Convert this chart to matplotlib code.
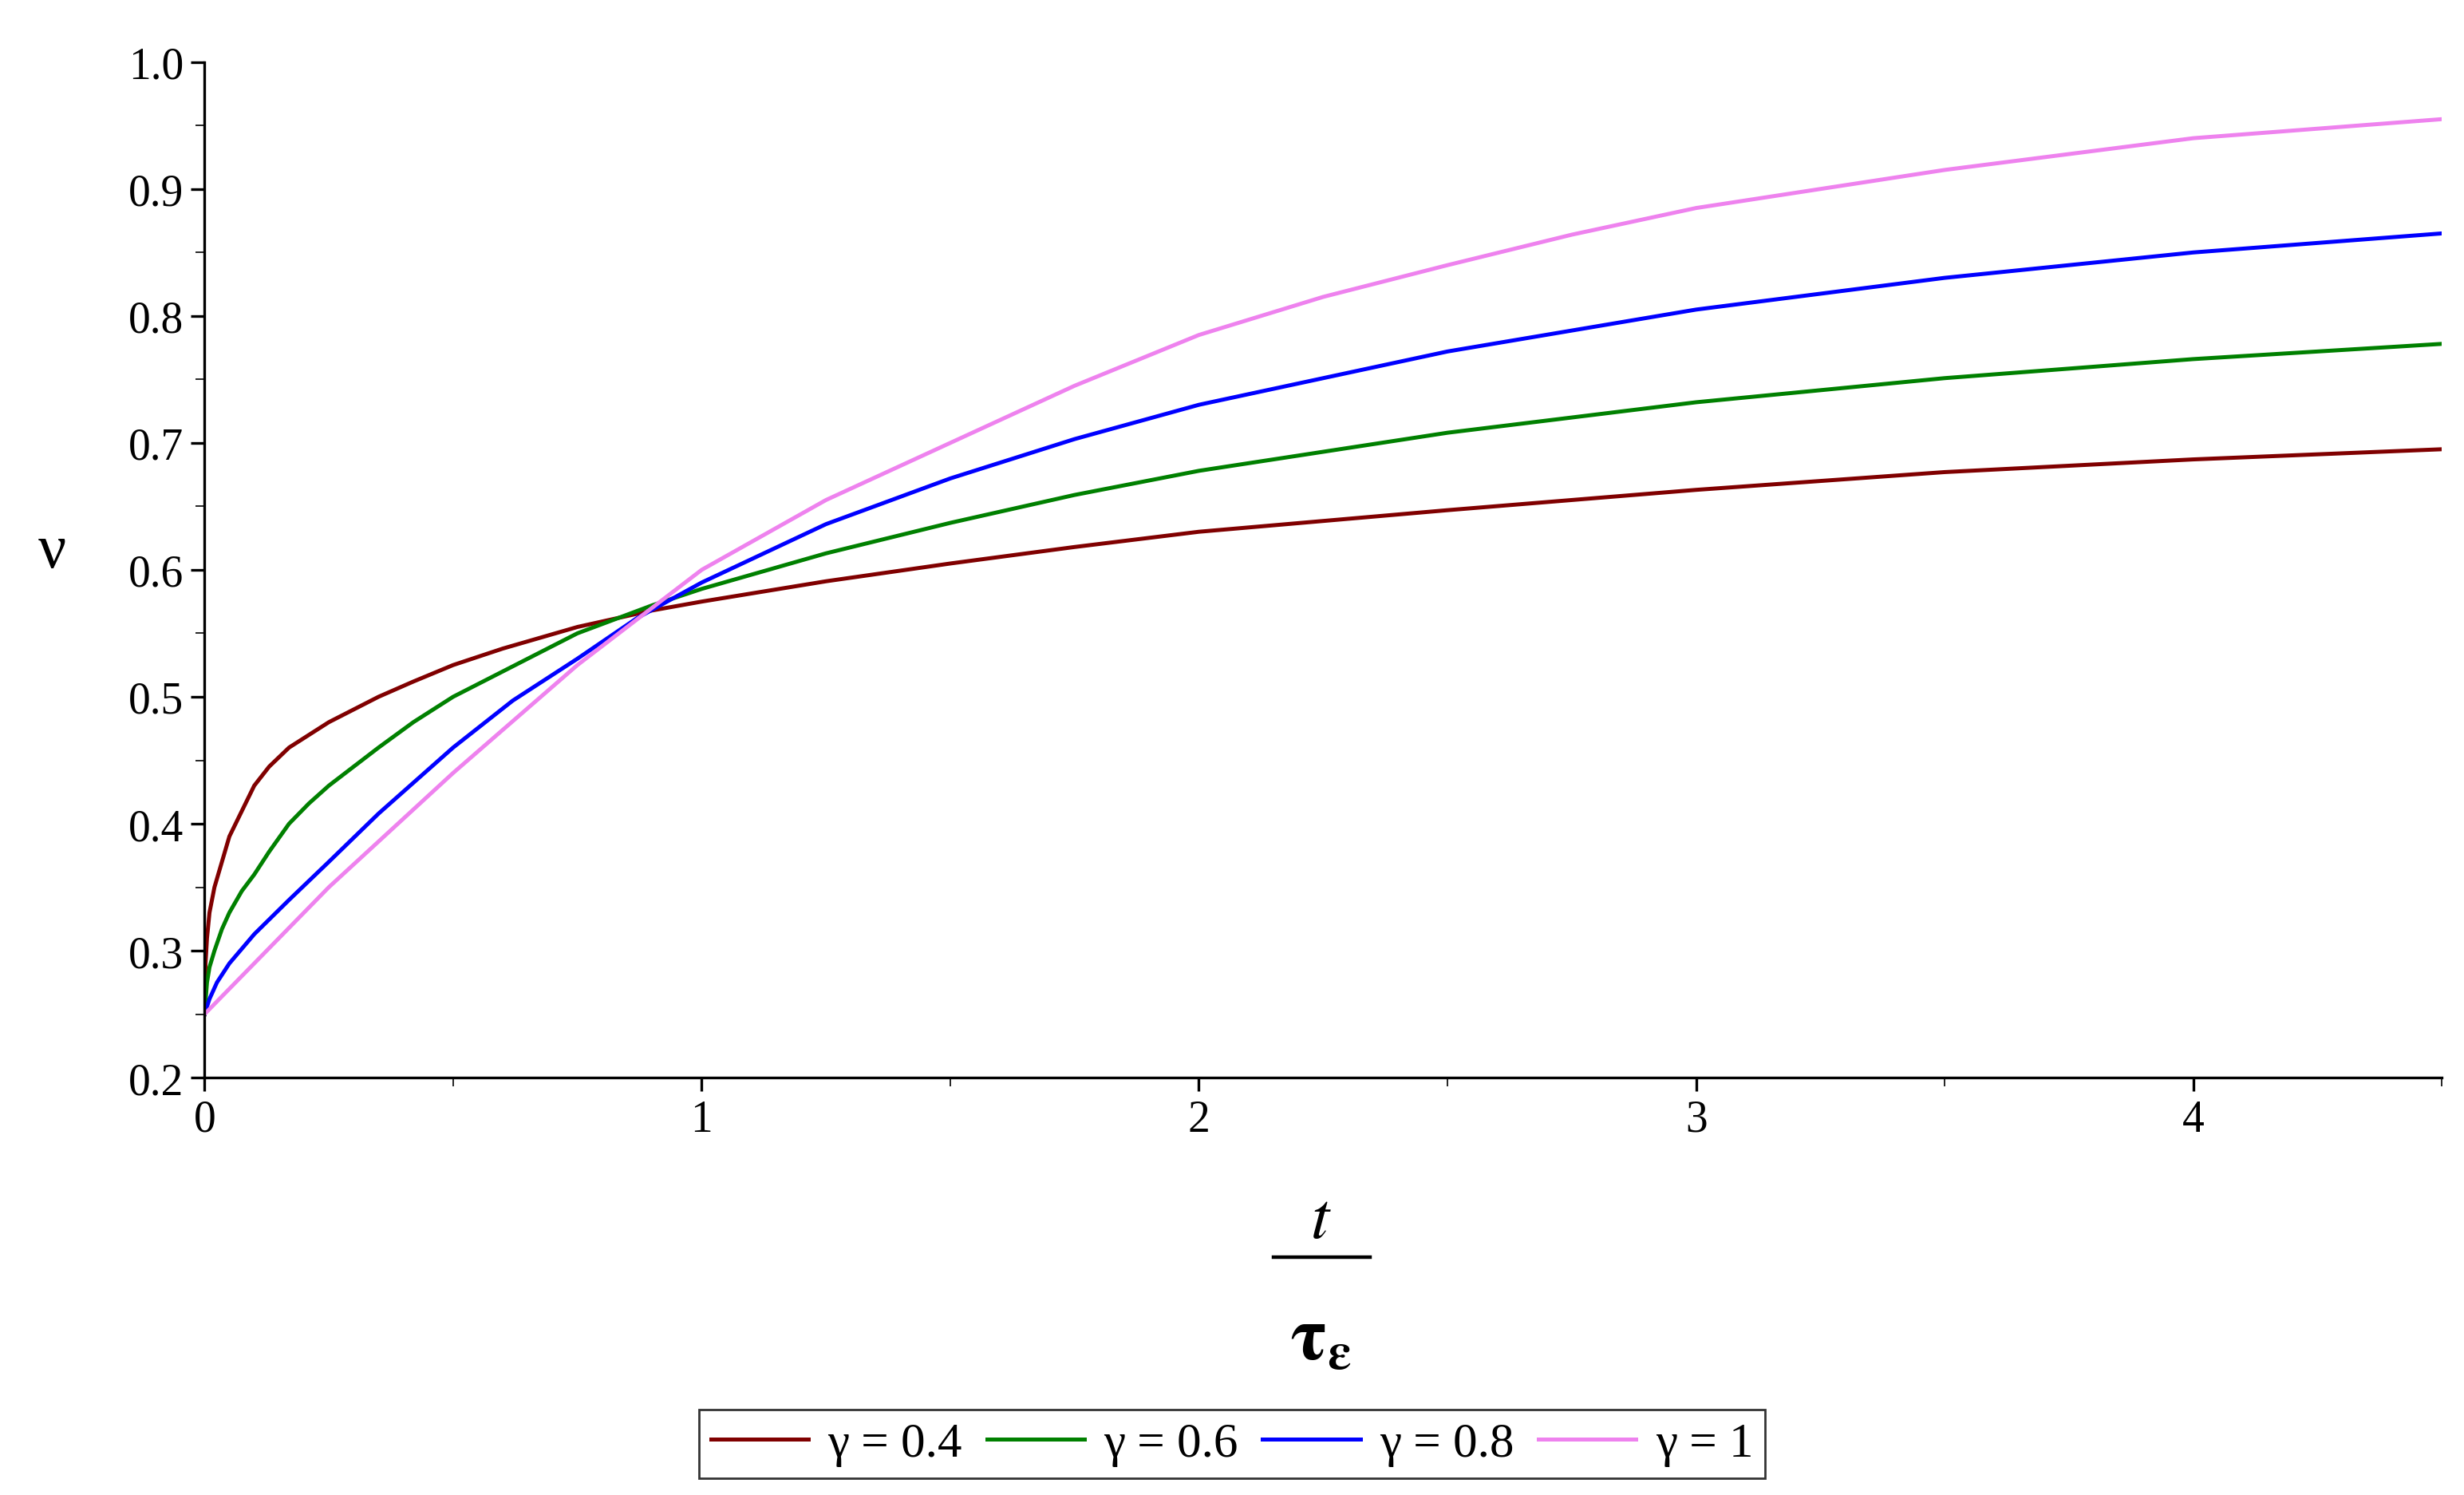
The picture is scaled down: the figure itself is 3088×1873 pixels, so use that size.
import matplotlib.pyplot as plt
from matplotlib.ticker import MultipleLocator
from matplotlib.lines import Line2D

plt.rcParams['font.family'] = 'serif'
plt.rcParams['font.serif'] = ['Liberation Serif', 'Times New Roman', 'DejaVu Serif']
plt.rcParams['mathtext.fontset'] = 'stix'

# values
t04 = [0, 0.002, 0.005, 0.01, 0.02, 0.035, 0.05, 0.075, 0.1, 0.13, 0.17, 0.21, 0.25, 0.3, 0.35, 0.42, 0.5, 0.6, 0.75, 0.9, 1, 1.25, 1.5, 1.75, 2, 2.5, 3, 3.5, 4, 4.5]
v04 = [0.25, 0.29, 0.31, 0.33, 0.35, 0.37, 0.39, 0.41, 0.43, 0.445, 0.46, 0.47, 0.48, 0.49, 0.50, 0.512, 0.525, 0.538, 0.555, 0.568, 0.575, 0.591, 0.605, 0.618, 0.63, 0.647, 0.663, 0.677, 0.687, 0.695]
t06 = [0, 0.005, 0.01, 0.02, 0.035, 0.05, 0.075, 0.1, 0.13, 0.17, 0.21, 0.25, 0.3, 0.35, 0.42, 0.5, 0.6, 0.75, 0.9, 1, 1.25, 1.5, 1.75, 2, 2.5, 3, 3.5, 4, 4.5]
v06 = [0.25, 0.275, 0.287, 0.30, 0.317, 0.33, 0.347, 0.36, 0.378, 0.40, 0.416, 0.43, 0.445, 0.46, 0.48, 0.50, 0.52, 0.55, 0.572, 0.585, 0.613, 0.637, 0.659, 0.678, 0.708, 0.732, 0.751, 0.766, 0.778]
t08 = [0, 0.01, 0.025, 0.05, 0.1, 0.17, 0.25, 0.35, 0.5, 0.62, 0.75, 0.87, 1, 1.25, 1.5, 1.75, 2, 2.5, 3, 3.5, 4, 4.5]
v08 = [0.25, 0.262, 0.275, 0.29, 0.313, 0.34, 0.37, 0.408, 0.46, 0.497, 0.53, 0.562, 0.59, 0.636, 0.672, 0.703, 0.73, 0.772, 0.805, 0.83, 0.85, 0.865]
t10 = [0, 0.1, 0.25, 0.5, 0.75, 1, 1.25, 1.5, 1.75, 2, 2.25, 2.5, 2.75, 3, 3.5, 4, 4.5]
v10 = [0.25, 0.29, 0.35, 0.44, 0.525, 0.60, 0.655, 0.70, 0.745, 0.785, 0.815, 0.84, 0.864, 0.885, 0.915, 0.94, 0.955]

series = [(t04, v04, '#800000', 'γ = 0.4'),
          (t06, v06, '#008000', 'γ = 0.6'),
          (t08, v08, '#0000ff', 'γ = 0.8'),
          (t10, v10, '#ee82ee', 'γ = 1')]

fig = plt.figure(figsize=(15.44, 9.37), dpi=200)
ax = fig.add_axes([0.083, 0.279, 0.908, 0.679])
for t, v, c, lab in series:
    ax.plot(t, v, color=c, lw=1.8, label=lab)

ax.set_xlim(0, 4.5)
ax.set_ylim(0.2, 1.0)
ax.xaxis.set_major_locator(MultipleLocator(1))
ax.xaxis.set_minor_locator(MultipleLocator(0.5))
ax.yaxis.set_major_locator(MultipleLocator(0.1))
ax.yaxis.set_minor_locator(MultipleLocator(0.05))
ax.set_xticks([0, 1, 2, 3, 4])
ax.set_xticklabels(['0', '1', '2', '3', '4'])
ax.tick_params(labelsize=20, direction='out', length=6, width=1.2)
ax.tick_params(which='minor', length=4)
for s in ['top', 'right']:
    ax.spines[s].set_visible(False)
for s in ['left', 'bottom']:
    ax.spines[s].set_linewidth(1.2)

ax.set_ylabel('ν', fontsize=28, rotation=0)
ax.yaxis.set_label_coords(-0.068, 0.49)

# x label as a stacked fraction t / tau_eps
fig.text(0.536, 0.183, r'$\mathbf{\mathit{t}}$', fontsize=30, ha='center', va='center')
fig.add_artist(Line2D([0.517, 0.556], [0.159, 0.159], color='black', lw=1.6))
fig.text(0.536, 0.103, r'$\mathbf{\tau}_{\mathbf{\varepsilon}}$', fontsize=34, ha='center', va='center')

fig.legend(loc='center', bbox_to_anchor=(0.5, 0.034), ncol=4, fontsize=22,
           frameon=True, fancybox=False, edgecolor='black', handlelength=2.0,
           columnspacing=0.5, handletextpad=0.4, borderpad=0.25)

fig.savefig('out.png')
